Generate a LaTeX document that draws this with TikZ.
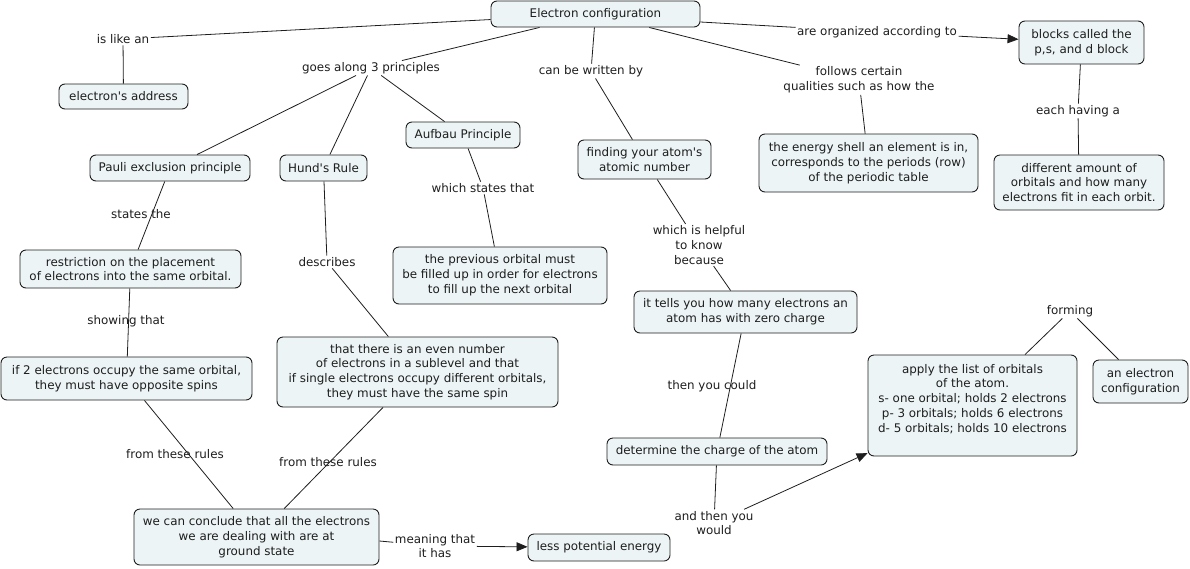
\documentclass[tikz,border=0pt]{standalone}
\usepackage{fontspec}
\setmainfont{DejaVu Sans}[Ligatures=TeXOff]
\usetikzlibrary{arrows.meta}
\definecolor{boxfill}{RGB}{236,244,246}
\definecolor{ink}{RGB}{30,30,30}
\pgfdeclarelayer{bg}
\pgfsetlayers{bg,main}
\tikzset{
  concept/.style={draw=ink, fill=boxfill, rounded corners=6pt, line width=0.9pt,
    align=center, inner sep=2pt, text=ink, font=\fontsize{11.9}{14.8}\selectfont},
  linklabel/.style={align=center, inner sep=1.5pt, text=ink, font=\fontsize{11.9}{14.8}\selectfont},
  conn/.style={draw=ink, line width=0.8pt},
  arr/.style={conn, -{Triangle[length=11pt,width=9pt]}}
}
\begin{document}
\begin{tikzpicture}[x=1pt,y=-1pt]
\useasboundingbox (0,0) rectangle (1190,568);
% concepts
\node[concept, minimum width=209pt, minimum height=26pt] (ec) at (595.5,14) {Electron configuration};
\node[concept, minimum width=125pt, minimum height=43pt] (blocks) at (1081.5,42.5) {blocks called the\\p,s, and d block};
\node[concept, minimum width=129pt, minimum height=25pt] (addr) at (123.5,96.5) {electron's address};
\node[concept, minimum width=160pt, minimum height=26pt] (pauli) at (170,168) {Pauli exclusion principle};
\node[concept, minimum width=87pt, minimum height=26pt] (hund) at (323.5,168) {Hund's Rule};
\node[concept, minimum width=114pt, minimum height=26pt] (aufbau) at (463,135) {Aufbau Principle};
\node[concept, minimum width=133pt, minimum height=39pt] (finding) at (644.5,159.5) {finding your atom's\\atomic number};
\node[concept, minimum width=219pt, minimum height=58pt] (energy) at (868.5,163) {the energy shell an element is in,\\corresponds to the periods (row)\\of the periodic table};
\node[concept, minimum width=170pt, minimum height=55pt] (diff) at (1079,182.5) {different amount of\\orbitals and how many\\electrons fit in each orbit.};
\node[concept, minimum width=221pt, minimum height=38pt] (restr) at (130.5,269) {restriction on the placement\\of electrons into the same orbital.};
\node[concept, minimum width=214pt, minimum height=57pt] (prev) at (500,275.5) {the previous orbital must\\be filled up in order for electrons\\to fill up the next orbital};
\node[concept, minimum width=223pt, minimum height=42pt] (tells) at (745.5,312) {it tells you how many electrons an\\atom has with zero charge};
\node[concept, minimum width=251pt, minimum height=43pt] (if2) at (126.5,378.5) {if 2 electrons occupy the same orbital,\\they must have opposite spins};
\node[concept, minimum width=281pt, minimum height=70pt] (even) at (417.5,372) {that there is an even number\\of electrons in a sublevel and that\\if single electrons occupy different orbitals,\\they must have the same spin};
\node[concept, minimum width=209pt, minimum height=101pt] (apply) at (972.5,405.5) {apply the list of orbitals\\of the atom.\\s- one orbital; holds 2 electrons\\p- 3 orbitals; holds 6 electrons\\d- 5 orbitals; holds 10 electrons\\~};
\node[concept, minimum width=95pt, minimum height=43pt] (anec) at (1140.5,381.5) {an electron\\configuration};
\node[concept, minimum width=220pt, minimum height=27pt] (determ) at (717,451.5) {determine the charge of the atom};
\node[concept, minimum width=245pt, minimum height=56pt] (conclude) at (256.5,537) {we can conclude that all the electrons\\we are dealing with are at\\ground state};
\node[concept, minimum width=142pt, minimum height=27pt] (less) at (599,547.5) {less potential energy};
% linking phrases
\node[linklabel] (islike) at (123,39) {is like an};
\node[linklabel] (goes) at (371,68) {goes along 3 principles};
\node[linklabel] (written) at (591,71) {can be written by};
\node[linklabel] (follows) at (859,80) {follows certain\\qualities such as how the};
\node[linklabel] (organized) at (877,32) {are organized according to};
\node[linklabel] (each) at (1078,111) {each having a};
\node[linklabel] (states) at (141,214) {states the};
\node[linklabel] (describes) at (327,262) {describes};
\node[linklabel] (whichstates) at (483,188) {which states that};
\node[linklabel] (helpful) at (699,245) {which is helpful\\to know\\because};
\node[linklabel] (showing) at (126,321) {showing that};
\node[linklabel] (thencould) at (712,386) {then you could};
\node[linklabel] (forming) at (1070,311) {forming};
\node[linklabel] (from1) at (175,454) {from these rules};
\node[linklabel] (from2) at (328,462) {from these rules};
\node[linklabel] (andthen) at (714,523) {and then you\\would};
\node[linklabel] (meaning) at (435,546) {meaning that\\it has};
% connectors
\begin{pgfonlayer}{bg}
\draw[conn] (ec) -- (islike) -- (addr);
\draw[conn] (ec) -- (goes);
\draw[conn] (goes) -- (pauli);
\draw[conn] (goes) -- (hund);
\draw[conn] (goes) -- (aufbau);
\draw[conn] (ec) -- (written) -- (finding);
\draw[conn] (ec) -- (follows) -- (energy);
\draw[conn] (ec.east) ++(0,8) -- (organized);
\draw[arr] (organized) -- (blocks);
\draw[conn] (blocks) -- (each) -- (diff);
\draw[conn] (pauli) -- (restr);
\draw[conn] (restr) -- (if2);
\draw[conn] (if2) -- (conclude);
\draw[conn] (hund) -- (describes) -- (even);
\draw[conn] (even) -- (conclude);
\draw[conn] (aufbau) -- (whichstates) -- (prev);
\draw[conn] (finding) -- (helpful) -- (tells);
\draw[conn] (tells) -- (determ);
\draw[conn] (determ) -- (andthen);
\draw[arr] (andthen) -- (apply);
\draw[conn] (apply) -- (forming) -- (anec);
\draw[conn] (conclude.east) ++(0,4) -- (meaning);
\draw[arr] (meaning) -- (less);
\end{pgfonlayer}
\end{tikzpicture}
\end{document}
